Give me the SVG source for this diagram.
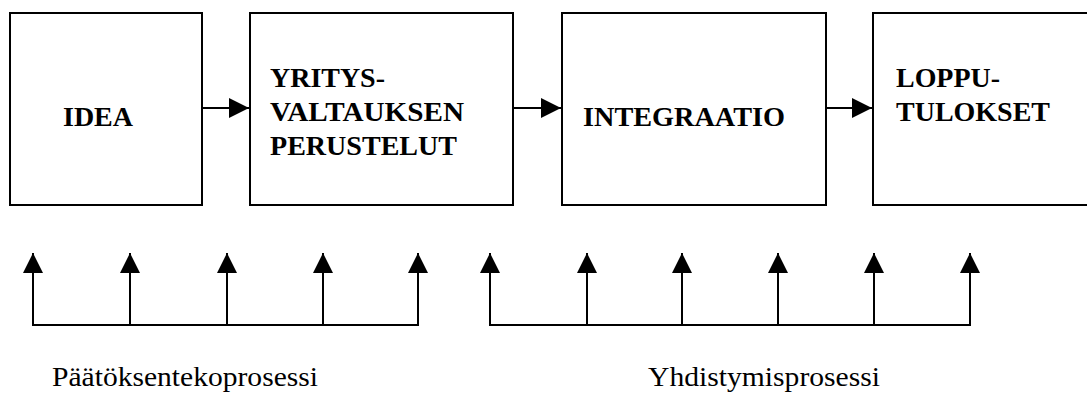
<svg xmlns="http://www.w3.org/2000/svg" width="1087" height="394" viewBox="0 0 1087 394">
<style>
.box{fill:#fff;stroke:#000;stroke-width:2}
.t{font-family:'Liberation Serif','DejaVu Serif',serif;font-weight:bold;font-size:27px;fill:#000}
.l{font-family:'Liberation Serif','DejaVu Serif',serif;font-size:28px;fill:#000}
.c{fill:none;stroke:#000;stroke-width:2}
</style>
<defs>
<marker id="ah" markerWidth="20" markerHeight="20" viewBox="0 0 20 20" refX="20" refY="10" orient="auto" markerUnits="userSpaceOnUse">
<path d="M0,0 L20,10 L0,20 Z" fill="#000"/>
</marker>
</defs>
<rect width="1087" height="394" fill="#fff"/>
<g id="idea"><rect class="box" x="10" y="13" width="192" height="192"/><text class="t" x="63" y="126" textLength="70" lengthAdjust="spacingAndGlyphs">IDEA</text></g>
<g id="perustelut"><rect class="box" x="250" y="13" width="263" height="192"/><text class="t" x="270" y="87" textLength="115" lengthAdjust="spacingAndGlyphs">YRITYS-</text><text class="t" x="270" y="121" textLength="194" lengthAdjust="spacingAndGlyphs">VALTAUKSEN</text><text class="t" x="270" y="155" textLength="187" lengthAdjust="spacingAndGlyphs">PERUSTELUT</text></g>
<g id="integraatio"><rect class="box" x="562" y="13" width="264" height="192"/><text class="t" x="583" y="126" textLength="202" lengthAdjust="spacingAndGlyphs">INTEGRAATIO</text></g>
<g id="lopputulokset"><rect class="box" x="873" y="13" width="220" height="192"/><text class="t" x="896" y="87" textLength="104" lengthAdjust="spacingAndGlyphs">LOPPU-</text><text class="t" x="896" y="121" textLength="154" lengthAdjust="spacingAndGlyphs">TULOKSET</text></g>
<g id="connectors">
<line class="c" x1="202" y1="108" x2="249" y2="108" marker-end="url(#ah)"/>
<line class="c" x1="513" y1="108" x2="561" y2="108" marker-end="url(#ah)"/>
<line class="c" x1="826" y1="108" x2="872" y2="108" marker-end="url(#ah)"/>
<path class="c" d="M33,253 V325 H418 V253 M130,325 V253 M227,325 V253 M323,325 V253"/>
<path class="c" d="M490,253 V325 H970 V253 M587,325 V253 M682,325 V253 M778,325 V253 M874,325 V253"/>
<g fill="#000">
<path d="M33,253 l-10,20 h20 Z M130,253 l-10,20 h20 Z M227,253 l-10,20 h20 Z M323,253 l-10,20 h20 Z M418,253 l-10,20 h20 Z"/>
<path d="M490,253 l-10,20 h20 Z M587,253 l-10,20 h20 Z M682,253 l-10,20 h20 Z M778,253 l-10,20 h20 Z M874,253 l-10,20 h20 Z M970,253 l-10,20 h20 Z"/>
</g>
</g>
<g id="labels"><text class="l" x="52" y="386" textLength="266" lengthAdjust="spacingAndGlyphs">Päätöksentekoprosessi</text><text class="l" x="648" y="386" textLength="232" lengthAdjust="spacingAndGlyphs">Yhdistymisprosessi</text></g>
</svg>
